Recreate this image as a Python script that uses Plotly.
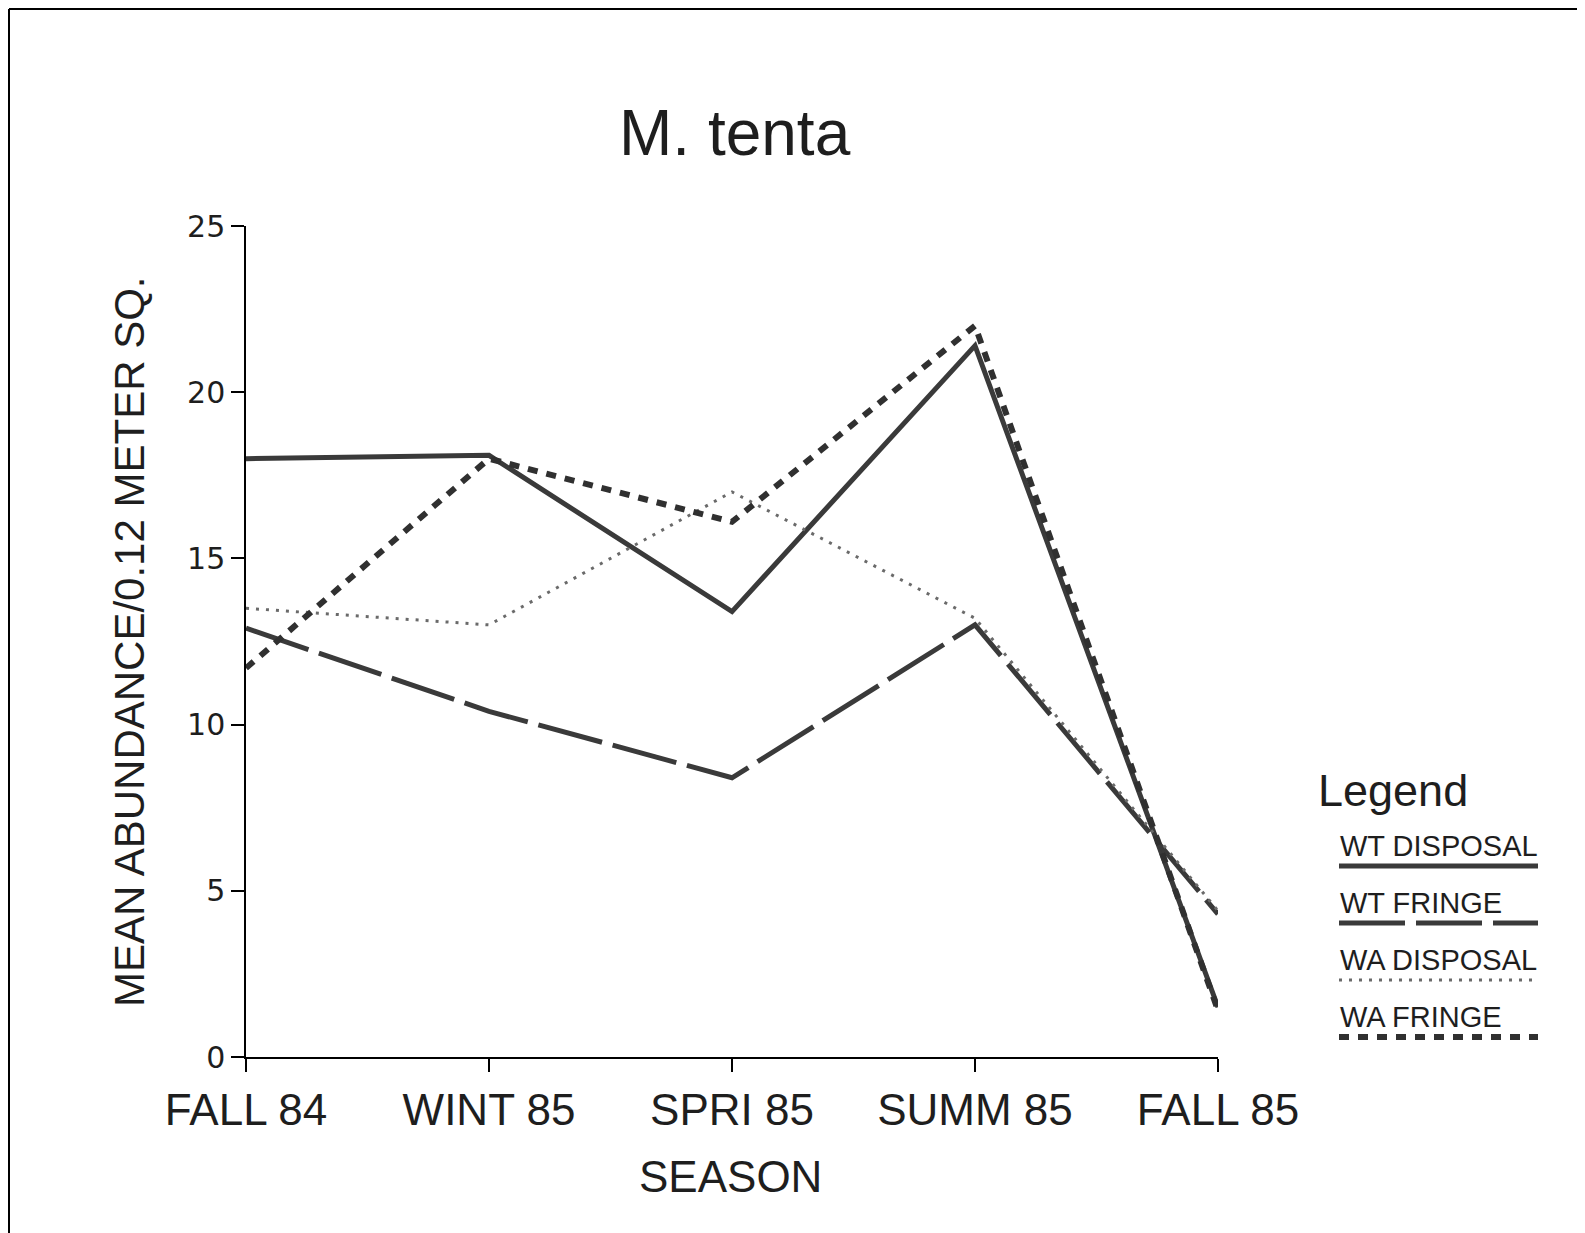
import plotly.graph_objects as go

seasons = ['FALL 84', 'WINT 85', 'SPRI 85', 'SUMM 85', 'FALL 85']

wt_disposal = [18.0, 18.1, 13.4, 21.4, 1.5]
wt_fringe = [12.9, 10.4, 8.4, 13.0, 4.3]
wa_disposal = [13.5, 13.0, 17.0, 13.2, 4.4]
wa_fringe = [11.7, 18.0, 16.1, 22.0, 1.4]

series_names = ['WT DISPOSAL', 'WT FRINGE', 'WA DISPOSAL', 'WA FRINGE']
y_ticks = [0, 5, 10, 15, 20, 25]

# the page body adds an 8px margin, so work in page pixels and shift
OFF = 8
W, H = 1585 - OFF, 1233 - OFF
# plot area in page pixels
L, R, T, B = 246, 1218, 226, 1057

font_main = 'Liberation Sans, Arial, sans-serif'
ink = '#1e1e1e'


def px_x(p):
    return (p - L) / (R - L)


def px_y(p):
    return (B - p) / (B - T)


styles = [
    dict(color='#3a3a3a', width=5, dash='solid'),
    dict(color='#3a3a3a', width=5, dash='66px,11px'),
    dict(color='#6a6a6a', width=3, dash='3px,7px'),
    dict(color='#303030', width=6, dash='10px,9px'),
]

fig = go.Figure()
for name, vals, st in zip(series_names, [wt_disposal, wt_fringe, wa_disposal, wa_fringe], styles):
    fig.add_trace(go.Scatter(x=seasons, y=vals, mode='lines', name=name,
                             line=st, showlegend=False))

fig.update_layout(
    width=W, height=H,
    margin=dict(l=L - OFF, r=W - (R - OFF), t=T - OFF, b=H - (B - OFF)),
    paper_bgcolor='white', plot_bgcolor='white',
    xaxis=dict(type='category', range=[0, 4], showgrid=False, zeroline=False,
               showline=True, linecolor='black', linewidth=1.5,
               ticks='outside', ticklen=13, tickwidth=1.5, tickcolor='black',
               tickfont=dict(family=font_main, size=44, color=ink)),
    yaxis=dict(range=[0, 25], tickvals=y_ticks, showgrid=False, zeroline=False,
               showline=True, linecolor='black', linewidth=1.5,
               ticks='outside', ticklen=13, tickwidth=1.5, tickcolor='black',
               tickfont=dict(family='DejaVu Sans, sans-serif', size=30, color=ink)),
)


def label(text, x, y, size, xanchor='center', angle=0):
    fig.add_annotation(text=text, xref='paper', yref='paper',
                       x=px_x(x), y=px_y(y), xanchor=xanchor, yanchor='middle',
                       showarrow=False, textangle=angle,
                       font=dict(family=font_main, size=size, color=ink))


# title and axis titles
label('M. tenta', 735, 133, 64)
label('SEASON', 730, 1176, 44)
label('MEAN ABUNDANCE/0.12 METER SQ.', 129, 642, 42, angle=-90)

# legend block: text above a sample line
label('Legend', 1316, 790, 45, xanchor='left')
for i, (name, st) in enumerate(zip(series_names, styles)):
    ty = 846 + i * 57
    label(name, 1338, ty, 29, xanchor='left')
    fig.add_shape(type='line', xref='paper', yref='paper',
                  x0=px_x(1339), x1=px_x(1538), y0=px_y(ty + 20), y1=px_y(ty + 20),
                  line=dict(color=st['color'], width=st['width'], dash=st['dash']))

# page frame (left and top edges)
fig.add_shape(type='line', xref='paper', yref='paper',
              x0=px_x(9), x1=px_x(9), y0=px_y(1245), y1=px_y(9),
              line=dict(color='black', width=2))
fig.add_shape(type='line', xref='paper', yref='paper',
              x0=px_x(9), x1=px_x(1600), y0=px_y(9), y1=px_y(9),
              line=dict(color='black', width=2))

fig.write_html('out.html')
